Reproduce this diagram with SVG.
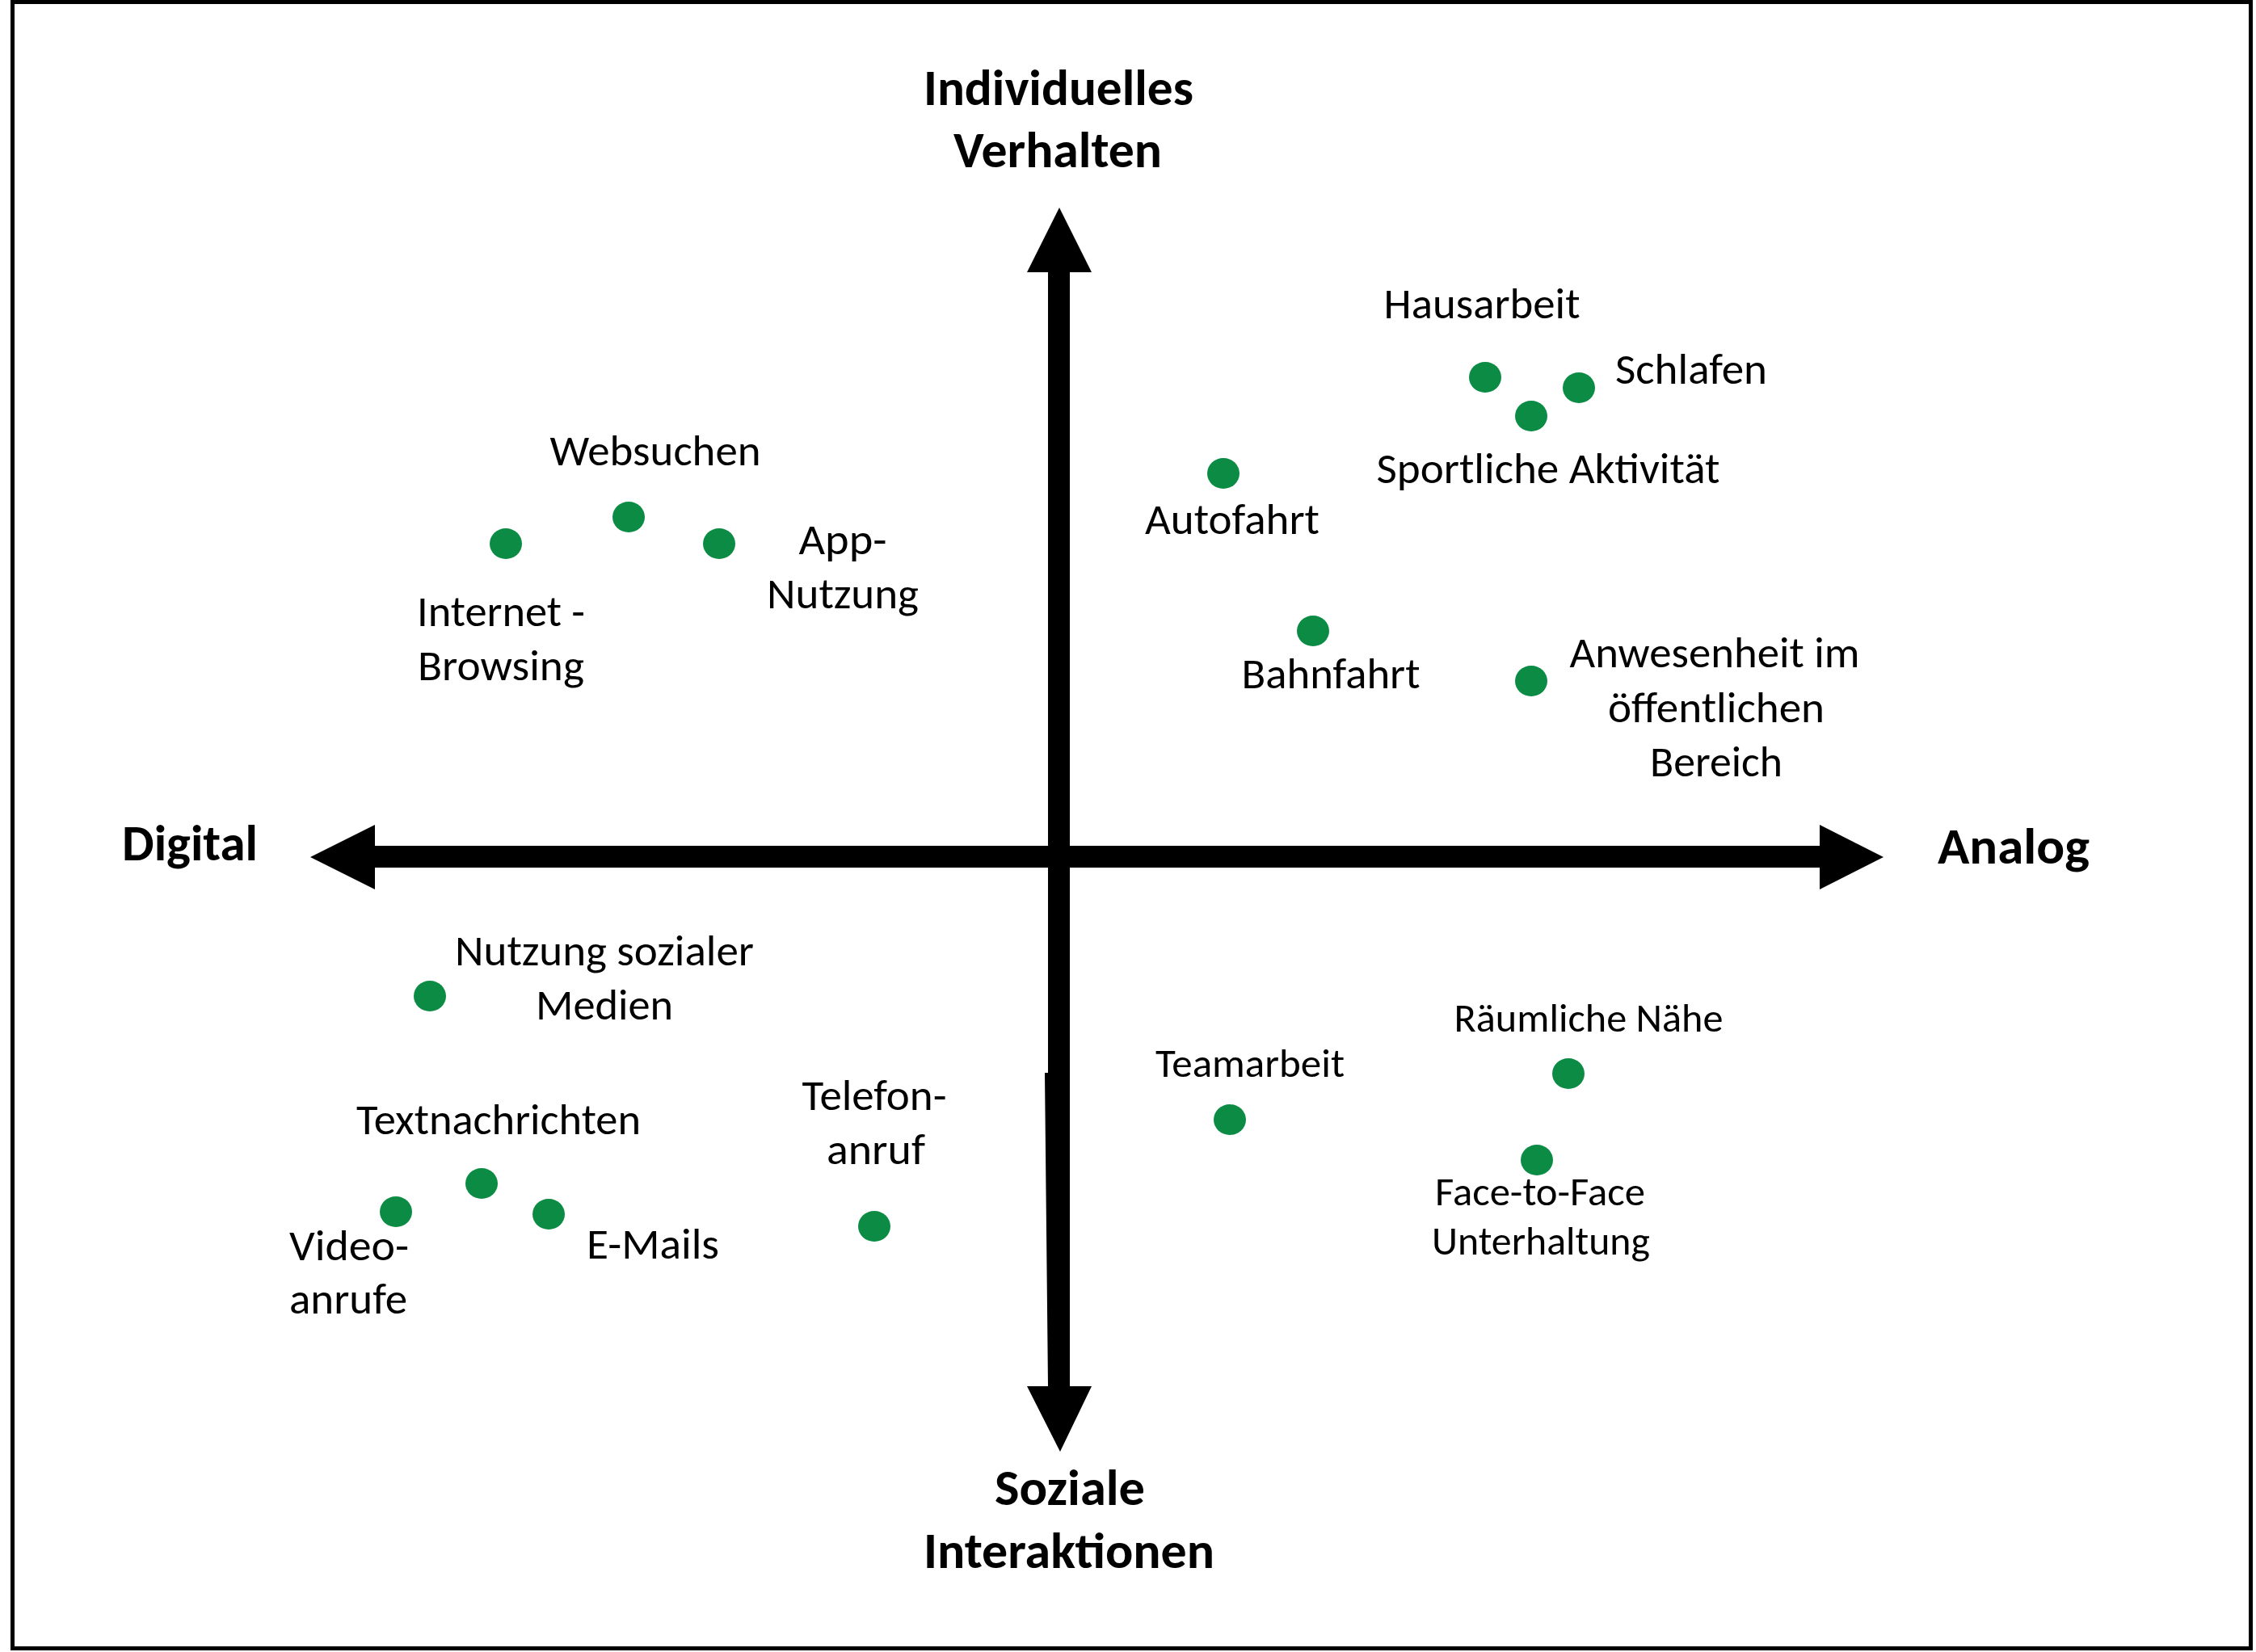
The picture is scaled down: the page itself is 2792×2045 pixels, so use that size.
<svg xmlns="http://www.w3.org/2000/svg" width="2792" height="2045" viewBox="0 0 2792 2045">
<style>
.frame{fill:none;stroke:#000;stroke-width:5}
.axis{fill:#000;stroke:none}
.dot{fill:#0b8b44}
text{font-family:Carlito,Calibri,Lato,"Liberation Sans",sans-serif;fill:#000;text-anchor:middle}
.ax{font-size:63px;font-weight:bold}
.lb{font-size:54px}
.sm{font-size:49px}
</style>
<rect width="2792" height="2045" fill="#fff"/>
<rect class="frame" x="15.5" y="2.5" width="2770" height="2038"/>
<g id="connectors">
<polygon class="axis" points="384,1061 464,1021 464,1047 2252,1047 2252,1021 2331,1061 2252,1101 2252,1074 464,1074 464,1101"/>
<polygon class="axis" points="1311,257 1351,337 1324,337 1324,1716 1351,1716 1312,1797 1271,1716 1297,1716 1293,1328 1297,1328 1297,337 1271,337"/>
</g>
<g id="axis-individuell"><text class="ax" x="1310" y="130" textLength="334" lengthAdjust="spacingAndGlyphs">Individuelles</text><text class="ax" x="1309" y="207" textLength="258" lengthAdjust="spacingAndGlyphs">Verhalten</text></g>
<g id="axis-sozial"><text class="ax" x="1324" y="1863" textLength="186" lengthAdjust="spacingAndGlyphs">Soziale</text><text class="ax" x="1323" y="1941" textLength="360" lengthAdjust="spacingAndGlyphs">Interaktionen</text></g>
<g id="axis-digital"><text class="ax" x="235" y="1065" textLength="168" lengthAdjust="spacingAndGlyphs">Digital</text></g>
<g id="axis-analog"><text class="ax" x="2492" y="1069" textLength="188" lengthAdjust="spacingAndGlyphs">Analog</text></g>
<g id="hausarbeit"><ellipse class="dot" cx="1838" cy="467" rx="20" ry="19"/><text class="lb" x="1834" y="394" textLength="243" lengthAdjust="spacingAndGlyphs">Hausarbeit</text></g>
<g id="schlafen"><ellipse class="dot" cx="1954" cy="480" rx="20" ry="19"/><text class="lb" x="2093" y="475" textLength="188" lengthAdjust="spacingAndGlyphs">Schlafen</text></g>
<g id="sportliche-aktivitaet"><ellipse class="dot" cx="1895" cy="515" rx="20" ry="19"/><text class="lb" x="1916" y="598" textLength="425" lengthAdjust="spacingAndGlyphs">Sportliche Aktivität</text></g>
<g id="autofahrt"><ellipse class="dot" cx="1514" cy="586" rx="20" ry="19"/><text class="lb" x="1525" y="661" textLength="216" lengthAdjust="spacingAndGlyphs">Autofahrt</text></g>
<g id="bahnfahrt"><ellipse class="dot" cx="1625" cy="781" rx="20" ry="19"/><text class="lb" x="1647" y="852" textLength="221" lengthAdjust="spacingAndGlyphs">Bahnfahrt</text></g>
<g id="anwesenheit"><ellipse class="dot" cx="1895" cy="843" rx="20" ry="19"/><text class="lb" x="2122" y="826" textLength="359" lengthAdjust="spacingAndGlyphs">Anwesenheit im</text><text class="lb" x="2124" y="894" textLength="268" lengthAdjust="spacingAndGlyphs">öffentlichen</text><text class="lb" x="2124" y="961" textLength="164" lengthAdjust="spacingAndGlyphs">Bereich</text></g>
<g id="websuchen"><ellipse class="dot" cx="778" cy="640" rx="20" ry="19"/><text class="lb" x="811" y="576" textLength="261" lengthAdjust="spacingAndGlyphs">Websuchen</text></g>
<g id="internet-browsing"><ellipse class="dot" cx="626" cy="673" rx="20" ry="19"/><text class="lb" x="620" y="775" textLength="208" lengthAdjust="spacingAndGlyphs">Internet -</text><text class="lb" x="620" y="842" textLength="206" lengthAdjust="spacingAndGlyphs">Browsing</text></g>
<g id="app-nutzung"><ellipse class="dot" cx="890" cy="673" rx="20" ry="19"/><text class="lb" x="1043" y="686" textLength="109" lengthAdjust="spacingAndGlyphs">App-</text><text class="lb" x="1043" y="753" textLength="188" lengthAdjust="spacingAndGlyphs">Nutzung</text></g>
<g id="soziale-medien"><ellipse class="dot" cx="532" cy="1233" rx="20" ry="19"/><text class="lb" x="748" y="1195" textLength="370" lengthAdjust="spacingAndGlyphs">Nutzung sozialer</text><text class="lb" x="748" y="1262" textLength="170" lengthAdjust="spacingAndGlyphs">Medien</text></g>
<g id="textnachrichten"><ellipse class="dot" cx="596" cy="1465" rx="20" ry="19"/><text class="lb" x="617" y="1404" textLength="352" lengthAdjust="spacingAndGlyphs">Textnachrichten</text></g>
<g id="videoanrufe"><ellipse class="dot" cx="490" cy="1500" rx="20" ry="19"/><text class="lb" x="432" y="1560" textLength="148" lengthAdjust="spacingAndGlyphs">Video-</text><text class="lb" x="431" y="1626" textLength="146" lengthAdjust="spacingAndGlyphs">anrufe</text></g>
<g id="emails"><ellipse class="dot" cx="679" cy="1503" rx="20" ry="19"/><text class="lb" x="808" y="1558" textLength="164" lengthAdjust="spacingAndGlyphs">E-Mails</text></g>
<g id="telefonanruf"><ellipse class="dot" cx="1082" cy="1518" rx="20" ry="19"/><text class="lb" x="1082" y="1374" textLength="179" lengthAdjust="spacingAndGlyphs">Telefon-</text><text class="lb" x="1084" y="1441" textLength="122" lengthAdjust="spacingAndGlyphs">anruf</text></g>
<g id="teamarbeit"><ellipse class="dot" cx="1522" cy="1386" rx="20" ry="19"/><text class="sm" x="1547" y="1333" textLength="234" lengthAdjust="spacingAndGlyphs">Teamarbeit</text></g>
<g id="raeumliche-naehe"><ellipse class="dot" cx="1941" cy="1329" rx="20" ry="19"/><text class="sm" x="1966" y="1277" textLength="333" lengthAdjust="spacingAndGlyphs">Räumliche Nähe</text></g>
<g id="face-to-face"><ellipse class="dot" cx="1902" cy="1436" rx="20" ry="19"/><text class="sm" x="1906" y="1492" textLength="260" lengthAdjust="spacingAndGlyphs">Face-to-Face</text><text class="sm" x="1907" y="1553" textLength="270" lengthAdjust="spacingAndGlyphs">Unterhaltung</text></g>
</svg>
